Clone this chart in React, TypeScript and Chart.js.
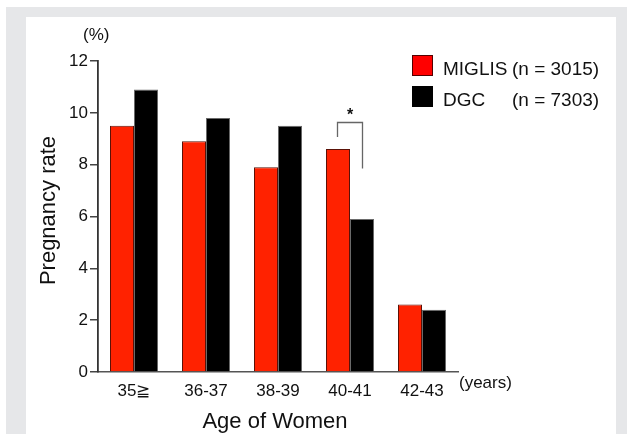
import React, { useEffect, useRef } from "react";
import { Chart, registerables } from "chart.js";

Chart.register(...registerables);

const categories = ["35≧", "36-37", "38-39", "40-41", "42-43"];
const miglisValues = [9.5, 8.9, 7.9, 8.6, 2.6];
const dgcValues = [10.9, 9.8, 9.5, 5.9, 2.4];
const seriesNames = ["MIGLIS", "DGC"];
const seriesCounts = ["(n = 3015)", "(n = 7303)"];
const yMin = 0;
const yMax = 12;
const yStep = 2;
const sigCategoryIndex = 3;
const sigTopValue = 9.65;
const sigLeftBottomValue = 9.07;
const sigRightBottomValue = 7.85;

const FONT = '"Liberation Sans", Arial, Helvetica, sans-serif';
const RED = "#ff2200";
const TEXT = "#111111";

const annotations = {
  id: "annotations",
  afterDraw(chart: any) {
    const { ctx, chartArea, scales } = chart;
    const x = scales.x;
    const y = scales.y;
    ctx.save();
    // y axis title
    ctx.fillStyle = TEXT;
    ctx.font = `22px ${FONT}`;
    ctx.textAlign = "center";
    ctx.textBaseline = "alphabetic";
    ctx.save();
    ctx.translate(55, (chartArea.top + chartArea.bottom) / 2 - 6);
    ctx.rotate(-Math.PI / 2);
    ctx.fillText("Pregnancy rate", 0, 0);
    ctx.restore();
    // x axis title
    ctx.fillText("Age of Women", (chartArea.left + chartArea.right) / 2 - 3, 428);
    // unit labels
    ctx.font = `17px ${FONT}`;
    ctx.textAlign = "left";
    ctx.textBaseline = "middle";
    ctx.fillText("(%)", 83, 35);
    ctx.fillText("(years)", chartArea.right + 1, 383);

    // significance bracket
    const meta0 = chart.getDatasetMeta(0).data[sigCategoryIndex];
    const meta1 = chart.getDatasetMeta(1).data[sigCategoryIndex];
    const xl = Math.round(meta0.x) - 0.5;
    const xr = Math.round(meta1.x) + 0.5;
    const yt = Math.round(y.getPixelForValue(sigTopValue)) + 0.5;
    ctx.strokeStyle = "#666666";
    ctx.lineWidth = 1.3;
    ctx.beginPath();
    ctx.moveTo(xl, y.getPixelForValue(sigLeftBottomValue));
    ctx.lineTo(xl, yt);
    ctx.lineTo(xr, yt);
    ctx.lineTo(xr, y.getPixelForValue(sigRightBottomValue));
    ctx.stroke();
    ctx.fillStyle = TEXT;
    ctx.font = `bold 16px ${FONT}`;
    ctx.textAlign = "center";
    ctx.textBaseline = "alphabetic";
    ctx.fillText("*", x.getPixelForValue(sigCategoryIndex), yt - 2.5);

    // legend
    const boxX = 412;
    const rows = [55, 86];
    const fills = ["#ff0000", "#000000"];
    const borders = ["#550000", "#000000"];
    ctx.font = `19px ${FONT}`;
    ctx.textAlign = "left";
    rows.forEach((ry, i) => {
      ctx.fillStyle = fills[i];
      ctx.fillRect(boxX, ry, 21, 21);
      ctx.strokeStyle = borders[i];
      ctx.lineWidth = 1;
      ctx.strokeRect(boxX + 0.5, ry + 0.5, 20, 20);
      ctx.fillStyle = TEXT;
      ctx.fillText(seriesNames[i], 443, ry + 20);
      ctx.fillText(seriesCounts[i], 512, ry + 20);
    });
    ctx.restore();
  },
};

export default function App() {
  const ref = useRef<HTMLCanvasElement | null>(null);
  useEffect(() => {
    if (!ref.current) return;
    const chart = new Chart(ref.current, {
      type: "bar",
      data: {
        labels: categories,
        datasets: [
          {
            label: seriesNames[0],
            data: miglisValues,
            backgroundColor: RED,
            borderColor: "#5a1208",
            borderWidth: 1,
            categoryPercentage: 0.667,
            barPercentage: 1,
          },
          {
            label: seriesNames[1],
            data: dgcValues,
            backgroundColor: "#000000",
            borderColor: "#6a6a6a",
            borderWidth: 1,
            categoryPercentage: 0.667,
            barPercentage: 1,
          },
        ],
      },
      options: {
        animation: false,
        responsive: false,
        devicePixelRatio: 1,
        layout: { padding: { left: 0, top: 61, right: 169, bottom: 0 } },
        plugins: { legend: { display: false }, tooltip: { enabled: false } },
        scales: {
          x: {
            offset: true,
            grid: { display: true, drawOnChartArea: false, drawTicks: false },
            border: { display: true, color: "#555555", width: 1.5 },
            ticks: {
              color: TEXT,
              font: { size: 17, family: FONT },
              padding: 9,
              maxRotation: 0,
              autoSkip: false,
            },
            afterFit: (s: any) => {
              s.height = 62;
            },
          },
          y: {
            min: yMin,
            max: yMax,
            grid: {
              display: true,
              drawOnChartArea: false,
              drawTicks: true,
              tickLength: 8,
              color: "#444444",
              lineWidth: 1.5,
            },
            border: { display: true, color: "#333333", width: 1.8 },
            ticks: {
              stepSize: yStep,
              color: TEXT,
              font: { size: 17, family: FONT },
              padding: 2,
            },
            afterFit: (s: any) => {
              s.width = 98;
            },
          },
        },
      },
      plugins: [annotations],
    });
    return () => chart.destroy();
  }, []);

  return (
    <div style={{ position: "fixed", left: 0, top: 0, width: 627, height: 434, background: "#ffffff", overflow: "hidden" }}>
      <div style={{ position: "absolute", left: 6, top: 7, width: 621, height: 427, background: "#e6e7e9" }} />
      <div style={{ position: "absolute", left: 26, top: 17, width: 590, height: 417, background: "#ffffff" }} />
      <canvas ref={ref} width={627} height={434} style={{ position: "absolute", left: 0, top: 0, width: 627, height: 434 }} />
    </div>
  );
}
